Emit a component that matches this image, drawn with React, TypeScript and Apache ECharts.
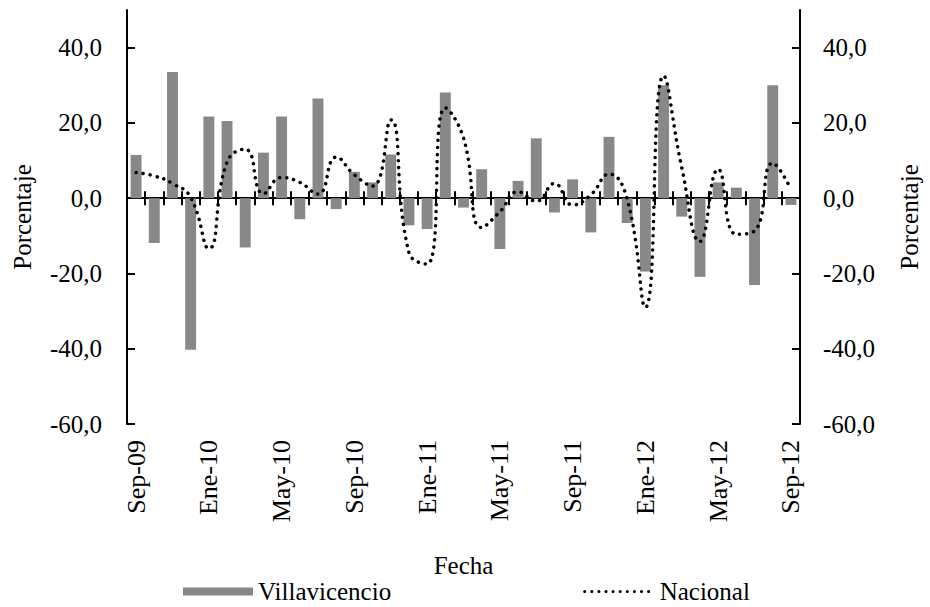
import React, { useEffect, useRef } from "react";
import * as echarts from "echarts";

const categories = [
  "Sep-09", "Oct-09", "Nov-09", "Dic-09",
  "Ene-10", "Feb-10", "Mar-10", "Abr-10", "May-10", "Jun-10", "Jul-10", "Ago-10", "Sep-10", "Oct-10", "Nov-10", "Dic-10",
  "Ene-11", "Feb-11", "Mar-11", "Abr-11", "May-11", "Jun-11", "Jul-11", "Ago-11", "Sep-11", "Oct-11", "Nov-11", "Dic-11",
  "Ene-12", "Feb-12", "Mar-12", "Abr-12", "May-12", "Jun-12", "Jul-12", "Ago-12", "Sep-12",
];

const villavicencio = [
  11.5, -11.9, 33.5, -40.3, 21.7, 20.5, -13.1, 12.1, 21.7, -5.6, 26.5, -2.9,
  7.0, 4.2, 11.6, -7.2, -8.2, 28.1, -2.5, 7.7, -13.5, 4.6, 15.9, -3.8,
  5.0, -9.1, 16.3, -6.6, -19.5, 30.0, -4.9, -20.9, 4.2, 2.8, -23.1, 30.0, -1.8,
];

const nacional = [
  6.8, 5.9, 3.9, 0.2, -13.4, 9.6, 13.0, 1.2, 5.5, 4.2, 1.1, 10.9,
  6.2, 3.2, 20.8, -14.5, -17.5, 24.0, 16.0, -7.8, -3.6, 1.7, -0.8, 3.9,
  -1.8, 0.9, 6.4, -0.3, -29.0, 32.5, 8.1, -11.5, 7.7, -9.6, -8.7, 9.3, 2.4,
];

const yTicks = [-60, -40, -20, 0, 20, 40];

const FONT = "'Liberation Serif', 'DejaVu Serif', serif";

export default function App() {
  const ref = useRef<HTMLDivElement>(null);
  useEffect(() => {
    if (!ref.current) return;
    const chart = echarts.init(ref.current, null, { renderer: "svg" });
    const fmt = (v: number) => v.toFixed(1).replace(".", ",");
    const yAxisCommon = {
      type: "value",
      min: -60,
      max: 50,
      interval: 10,
      splitLine: { show: false },
      axisLine: { show: true, lineStyle: { color: "#000", width: 2 } },
      axisTick: { show: true, inside: true, length: 8, lineStyle: { color: "#000", width: 2 }, customValues: yTicks },
      axisLabel: { color: "#000", fontFamily: FONT, fontSize: 25, formatter: fmt, customValues: yTicks },
      name: "Porcentaje",
      nameLocation: "middle",
      nameRotate: 90,
      nameTextStyle: { color: "#000", fontFamily: FONT, fontSize: 25 },
    };
    chart.setOption({
      animation: false,
      backgroundColor: "#fff",
      grid: { left: 127, right: 124, top: 10, bottom: 183, containLabel: false },
      legend: {
        left: 183,
        top: 579,
        itemGap: 192,
        itemWidth: 70,
        itemHeight: 8,
        padding: 0,
        textStyle: { color: "#000", fontFamily: FONT, fontSize: 25 },
        data: [
          { name: "Villavicencio", icon: "rect" },
          { name: "Nacional", itemStyle: { opacity: 0 }, lineStyle: { color: "#000", width: 3, type: [0.1, 7], cap: "round" } },
        ],
      },
      xAxis: [
        {
          type: "category",
          data: categories,
          position: "bottom",
          axisLine: { show: false, onZero: false },
          axisTick: { show: false },
          axisLabel: { interval: 3, rotate: 90, margin: 16, color: "#000", fontFamily: FONT, fontSize: 26 },
          name: "Fecha",
          nameLocation: "middle",
          nameGap: 129,
          nameTextStyle: { color: "#000", fontFamily: FONT, fontSize: 25 },
        },
        {
          type: "category",
          data: categories,
          position: "bottom",
          axisLine: { show: true, onZero: true, onZeroAxisIndex: 0, lineStyle: { color: "#000", width: 2 } },
          axisTick: { show: true, interval: 0, length: 7, lineStyle: { color: "#000", width: 2 } },
          axisLabel: { show: false },
        },
        {
          type: "category",
          data: categories,
          position: "top",
          axisLine: { show: false, onZero: true, onZeroAxisIndex: 0 },
          axisTick: { show: true, interval: 0, length: 7, lineStyle: { color: "#000", width: 2 } },
          axisLabel: { show: false },
        },
      ],
      yAxis: [
        { ...yAxisCommon, position: "left", nameGap: 92, axisLabel: { ...yAxisCommon.axisLabel, margin: 25 } },
        { ...yAxisCommon, position: "right", nameGap: 97, axisLabel: { ...yAxisCommon.axisLabel, margin: 23 } },
      ],
      series: [
        {
          name: "Villavicencio",
          type: "bar",
          xAxisIndex: 0,
          yAxisIndex: 0,
          data: villavicencio,
          barWidth: "60%",
          itemStyle: { color: "#888888" },
          z: 1,
        },
        {
          name: "Nacional",
          type: "line",
          xAxisIndex: 0,
          yAxisIndex: 0,
          data: nacional,
          smooth: 0.5,
          symbol: "none",
          lineStyle: { color: "#000", width: 3.5, type: [0.1, 7], cap: "round" },
          itemStyle: { color: "#000" },
          z: 3,
        },
      ],
    });
    return () => chart.dispose();
  }, []);
  return <div ref={ref} style={{ position: "absolute", left: 0, top: 0, width: 930, height: 607 }} />;
}
